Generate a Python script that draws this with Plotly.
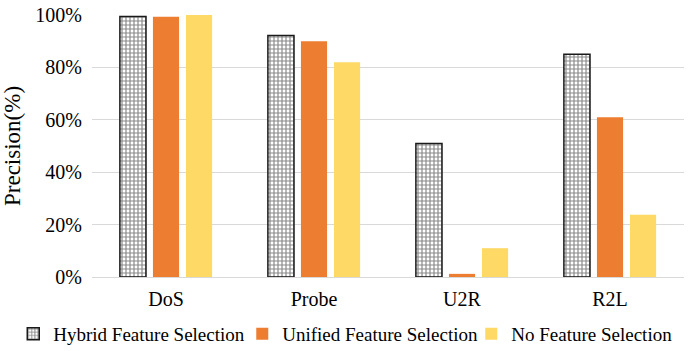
import plotly.graph_objects as go

categories = ["DoS", "Probe", "U2R", "R2L"]
hybrid = [99.4, 92.2, 51.0, 85.0]
unified = [99.3, 90.0, 1.2, 61.0]
no_fs = [100.0, 82.0, 11.0, 23.8]

serif = "Liberation Serif"

fig = go.Figure()
fig.add_trace(go.Bar(
    x=categories, y=hybrid, name="Hybrid Feature Selection",
    marker=dict(
        color="white",
        line=dict(color="#1a1a1a", width=1.5),
        pattern=dict(shape="+", fgcolor="#111111", bgcolor="white",
                     size=4, solidity=0.5, fillmode="overlay"),
    ),
))
fig.add_trace(go.Bar(
    x=categories, y=unified, name="Unified Feature Selection",
    marker=dict(color="#ED7D31", line=dict(width=0)),
))
fig.add_trace(go.Bar(
    x=categories, y=no_fs, name="No Feature Selection",
    marker=dict(color="#FFD966", line=dict(width=0)),
))

fig.update_layout(
    width=689, height=351,
    margin=dict(l=92, r=5, t=15, b=74, autoexpand=False),
    paper_bgcolor="white", plot_bgcolor="white",
    barmode="group", bargap=0.33, bargroupgap=0.21,
    font=dict(family=serif, size=20, color="#000000"),
    showlegend=True,
    legend=dict(orientation="h", x=-0.133, xanchor="left", y=-0.145,
                yanchor="top", font=dict(size=19, family=serif, color="#000000"),
                itemwidth=30, tracegroupgap=0, traceorder="normal",
                entrywidth=184, entrywidthmode="pixels",
                bgcolor="rgba(0,0,0,0)"),
    xaxis=dict(showgrid=False, showline=False, ticks="", ticklabelstandoff=8,
               tickfont=dict(size=20, family=serif, color="#000000")),
    yaxis=dict(range=[0, 100], dtick=20, ticksuffix="%", showgrid=True,
               gridcolor="#d9d9d9", gridwidth=1.3, zeroline=True,
               zerolinecolor="#d9d9d9", zerolinewidth=1.3,
               showline=False, ticklen=0, ticklabelstandoff=9,
               tickfont=dict(size=20, family=serif, color="#000000"),
               title=dict(text="Precision(%)", font=dict(size=23, family=serif),
                          standoff=8)),
)

fig.write_html("out.html")
